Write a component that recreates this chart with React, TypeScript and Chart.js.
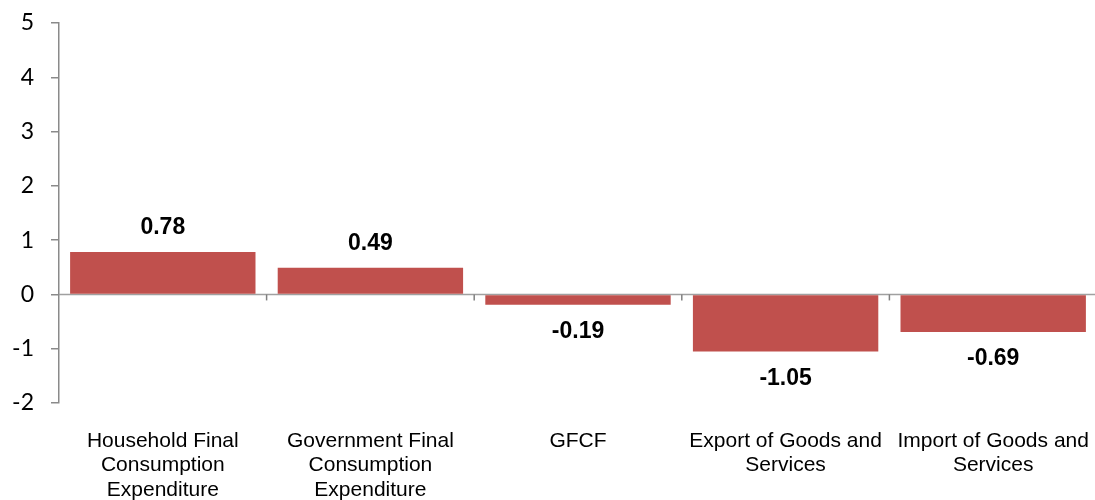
import React, { useEffect, useRef } from "react";
import { Chart, registerables } from "chart.js";

Chart.register(...registerables);

const categories: string[][] = [
  ["Household Final", "Consumption", "Expenditure"],
  ["Government Final", "Consumption", "Expenditure"],
  ["GFCF"],
  ["Export of Goods and", "Services"],
  ["Import of Goods and", "Services"],
];
const values: number[] = [0.78, 0.49, -0.19, -1.05, -0.69];
const yMin = -2;
const yMax = 5;

const zeroLinePlugin = {
  id: "zeroLine",
  beforeDatasetsDraw(chart: any) {
    const { ctx, chartArea, scales } = chart;
    const y0 = scales.y.getPixelForValue(0);
    const xs = scales.x;
    ctx.save();
    ctx.strokeStyle = "#A0A0A0";
    ctx.lineWidth = 1.5;
    ctx.beginPath();
    ctx.moveTo(chartArea.left, y0);
    ctx.lineTo(chart.width, y0);
    ctx.stroke();
    ctx.strokeStyle = "#808080";
    ctx.lineWidth = 1.5;
    const n = values.length;
    for (let i = 1; i <= n; i++) {
      let bx: number;
      if (i < n) bx = (xs.getPixelForValue(i - 1) + xs.getPixelForValue(i)) / 2;
      else bx = chartArea.right;
      ctx.beginPath();
      ctx.moveTo(bx, y0);
      ctx.lineTo(bx, y0 + 6);
      ctx.stroke();
    }
    ctx.restore();
  },
};

const labelPlugin = {
  id: "barLabels",
  afterDatasetsDraw(chart: any) {
    const { ctx } = chart;
    const meta = chart.getDatasetMeta(0);
    ctx.save();
    ctx.font = "bold 23px 'Liberation Sans', Arial, sans-serif";
    ctx.fillStyle = "#000";
    ctx.textAlign = "center";
    ctx.textBaseline = "middle";
    meta.data.forEach((bar: any, i: number) => {
      const v = values[i];
      const y = v >= 0 ? bar.y - 24 : bar.y + 27;
      ctx.fillText(v.toFixed(2), bar.x, y);
    });
    ctx.restore();
  },
};

export default function App() {
  const ref = useRef<HTMLCanvasElement | null>(null);
  useEffect(() => {
    if (!ref.current) return;
    const chart = new Chart(ref.current, {
      type: "bar",
      data: {
        labels: categories,
        datasets: [
          {
            data: values,
            backgroundColor: "#C0504D",
            borderWidth: 0,
            barPercentage: 0.893,
            categoryPercentage: 1,
          },
        ],
      },
      options: {
        animation: false,
        responsive: true,
        maintainAspectRatio: false,
        layout: { padding: { top: 23, right: 3, left: 1, bottom: 0 } },
        plugins: { legend: { display: false }, tooltip: { enabled: false } },
        scales: {
          x: {
            border: { display: false },
            grid: { display: false, drawTicks: false },
            ticks: {
              color: "#000",
              padding: 26,
              maxRotation: 0,
              autoSkip: false,
              font: { family: "'Liberation Sans', Arial, sans-serif", size: 21, lineHeight: 1.16 },
            },
            afterFit: (s: any) => {
              s.height = 97;
              s.paddingLeft = 0;
              s.paddingRight = 0;
            },
          },
          y: {
            min: yMin,
            max: yMax,
            border: { display: true, color: "#8A8A8A", width: 1.5 },
            grid: { drawOnChartArea: false, drawTicks: true, tickLength: 8, color: "#8A8A8A", lineWidth: 1.5 },
            ticks: {
              stepSize: 1,
              color: "#000",
              padding: 17,
              font: { family: "Lato, 'Open Sans', sans-serif", size: 23 },
            },
            afterFit: (s: any) => {
              s.width = 58;
              s.paddingTop = 0;
              s.paddingBottom = 0;
            },
          },
        },
      },
      plugins: [zeroLinePlugin, labelPlugin],
    });
    return () => chart.destroy();
  }, []);
  return (
    <div style={{ position: "absolute", left: 0, top: 0, width: 1100, height: 500 }}>
      <canvas ref={ref} />
    </div>
  );
}
